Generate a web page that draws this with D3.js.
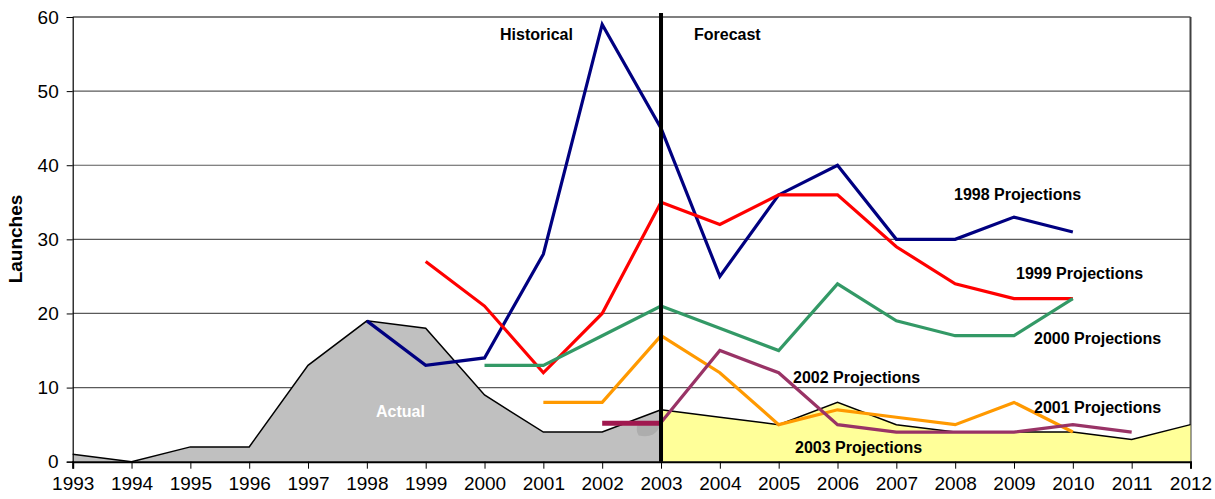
<!DOCTYPE html>
<html>
<head>
<meta charset="utf-8">
<script src="https://cdn.jsdelivr.net/npm/d3@7/dist/d3.min.js"></script>
<style>
  html, body { margin: 0; padding: 0; background: #fff; }
  svg { display: block; font-family: "Liberation Sans", Arial, sans-serif; }
</style>
</head>
<body>
<svg id="chart" width="1215" height="499"></svg>
<script>
// Launch history and successive forecasts
const years = d3.range(1993, 2013);
const yTicks = [0, 10, 20, 30, 40, 50, 60];

const actualYears = [1993, 1994, 1995, 1996, 1997, 1998, 1999, 2000, 2001, 2002, 2003];
const actualValues = [1, 0, 2, 2, 13, 19, 18, 9, 4, 4, 7];

const proj2003Years = [2003, 2004, 2005, 2006, 2007, 2008, 2009, 2010, 2011, 2012];
const proj2003Values = [7, 6, 5, 8, 5, 4, 4, 4, 3, 5];

const proj1998Years = [1998, 1999, 2000, 2001, 2002, 2003, 2004, 2005, 2006, 2007, 2008, 2009, 2010];
const proj1998Values = [19, 13, 14, 28, 59, 45, 25, 36, 40, 30, 30, 33, 31];

const proj1999Years = [1999, 2000, 2001, 2002, 2003, 2004, 2005, 2006, 2007, 2008, 2009, 2010];
const proj1999Values = [27, 21, 12, 20, 35, 32, 36, 36, 29, 24, 22, 22];

const proj2000Years = [2000, 2001, 2002, 2003, 2004, 2005, 2006, 2007, 2008, 2009, 2010];
const proj2000Values = [13, 13, 17, 21, 18, 15, 24, 19, 17, 17, 22];

const proj2001Years = [2001, 2002, 2003, 2004, 2005, 2006, 2007, 2008, 2009, 2010];
const proj2001Values = [8, 8, 17, 12, 5, 7, 6, 5, 8, 4];

const proj2002Years = [2003, 2004, 2005, 2006, 2007, 2008, 2009, 2010, 2011];
const proj2002Values = [5.3, 15, 12, 5, 4, 4, 4, 5, 4];

// short bar marking the 2002-2003 level
const markerYears = [2002, 2003];
const markerValues = [5.2, 5.2];

const svg = d3.select("#chart");
const x = d3.scaleLinear().domain([1993, 2012]).range([72.7, 1190.5]);
const y = d3.scaleLinear().domain([0, 60]).range([461.7, 17]);

const pts = (xs, vs) => xs.map((yr, i) => [yr, vs[i]]);
const line = d3.line().x(d => x(d[0])).y(d => y(d[1]));
const area = d3.area().x(d => x(d[0])).y0(y(0)).y1(d => y(d[1]));

// gridlines
svg.append("g")
  .selectAll("line")
  .data(yTicks.filter(v => v > 0 && v < 60))
  .join("line")
  .attr("x1", x(1993)).attr("x2", x(2012))
  .attr("y1", d => y(d)).attr("y2", d => y(d))
  .attr("stroke", "#5a5a5a").attr("stroke-width", 1.2);

// top and right frame
svg.append("line")
  .attr("x1", x(1993)).attr("x2", x(2012))
  .attr("y1", y(60)).attr("y2", y(60))
  .attr("stroke", "#000").attr("stroke-width", 1.2);
svg.append("line")
  .attr("x1", x(2012)).attr("x2", x(2012))
  .attr("y1", y(60)).attr("y2", y(0))
  .attr("stroke", "#404040").attr("stroke-width", 2);

// areas
const actual = pts(actualYears, actualValues);
const forecast = pts(proj2003Years, proj2003Values);
svg.append("path").datum(actual).attr("d", area).attr("fill", "#c0c0c0");
svg.append("path").datum(forecast).attr("d", area).attr("fill", "#ffff99");

// small darker patch inside the actual area
svg.append("path")
  .attr("d", `M${x(2002.6)},${y(5.0)} L${x(2002.97)},${y(5.0)} L${x(2002.97)},${y(4.6)} C${x(2002.9)},${y(3.4)} ${x(2002.75)},${y(3.3)} ${x(2002.62)},${y(3.55)} C${x(2002.58)},${y(4.0)} ${x(2002.58)},${y(4.6)} ${x(2002.6)},${y(5.0)} Z`)
  .attr("fill", "#adadad");

svg.append("path").datum(actual).attr("d", line)
  .attr("fill", "none").attr("stroke", "#000").attr("stroke-width", 1.5);
svg.append("path").datum(forecast).attr("d", line)
  .attr("fill", "none").attr("stroke", "#000").attr("stroke-width", 1.5);

// projection lines
const series = [
  { xs: proj1998Years, vs: proj1998Values, color: "#000080" },
  { xs: proj1999Years, vs: proj1999Values, color: "#ff0000" },
  { xs: proj2000Years, vs: proj2000Values, color: "#339966" },
  { xs: proj2001Years, vs: proj2001Values, color: "#ff9900" },
  { xs: proj2002Years, vs: proj2002Values, color: "#993366" }
];
svg.append("g")
  .selectAll("path")
  .data(series)
  .join("path")
  .attr("d", s => line(pts(s.xs, s.vs)))
  .attr("fill", "none")
  .attr("stroke", s => s.color)
  .attr("stroke-width", 3.2)
  .attr("stroke-linejoin", "miter");

svg.append("path").datum(pts(markerYears, markerValues)).attr("d", line)
  .attr("fill", "none").attr("stroke", "#a0184f").attr("stroke-width", 5);

// historical / forecast divider
svg.append("line")
  .attr("x1", x(2003)).attr("x2", x(2003))
  .attr("y1", 13).attr("y2", y(0))
  .attr("stroke", "#000").attr("stroke-width", 4);

// axes
const xAxis = d3.axisBottom(x).tickValues(years).tickFormat(d3.format("d"))
  .tickSize(7).tickPadding(8);
const gx = svg.append("g").attr("transform", `translate(0,${y(0)})`).call(xAxis);
gx.select(".domain").attr("stroke", "#000").attr("stroke-width", 2);
gx.selectAll(".tick line").attr("stroke", "#000").attr("stroke-width", 1);
gx.selectAll("text").attr("font-size", "19px").attr("fill", "#000")
  .attr("font-family", "Liberation Sans, Arial, sans-serif").attr("dy", "0.71em");

const yAxis = d3.axisLeft(y).tickValues(yTicks).tickSize(6).tickPadding(8);
const gy = svg.append("g").attr("transform", `translate(${x(1993)},0)`).call(yAxis);
gy.select(".domain").attr("stroke", "#000").attr("stroke-width", 1.2);
gy.selectAll(".tick line").attr("stroke", "#000");
gy.selectAll("text").attr("font-size", "19px").attr("fill", "#000")
  .attr("font-family", "Liberation Sans, Arial, sans-serif");

svg.append("text")
  .attr("transform", `translate(22,239) rotate(-90)`)
  .attr("text-anchor", "middle")
  .attr("font-size", "19px").attr("font-weight", "bold")
  .text("Launches");

// annotations
const labels = [
  { t: "Historical", x: 500, y: 40, c: "#000" },
  { t: "Forecast", x: 694, y: 40, c: "#000" },
  { t: "1998 Projections", x: 954, y: 200, c: "#000" },
  { t: "1999 Projections", x: 1016, y: 279, c: "#000" },
  { t: "2000 Projections", x: 1034, y: 344, c: "#000" },
  { t: "2002 Projections", x: 793, y: 383, c: "#000" },
  { t: "2001 Projections", x: 1034, y: 413, c: "#000" },
  { t: "2003 Projections", x: 795, y: 453, c: "#000" },
  { t: "Actual", x: 376, y: 417, c: "#fff" }
];
svg.append("g")
  .selectAll("text")
  .data(labels)
  .join("text")
  .attr("x", d => d.x).attr("y", d => d.y)
  .attr("fill", d => d.c)
  .attr("font-size", "16px").attr("font-weight", "bold")
  .text(d => d.t);
</script>
</body>
</html>
